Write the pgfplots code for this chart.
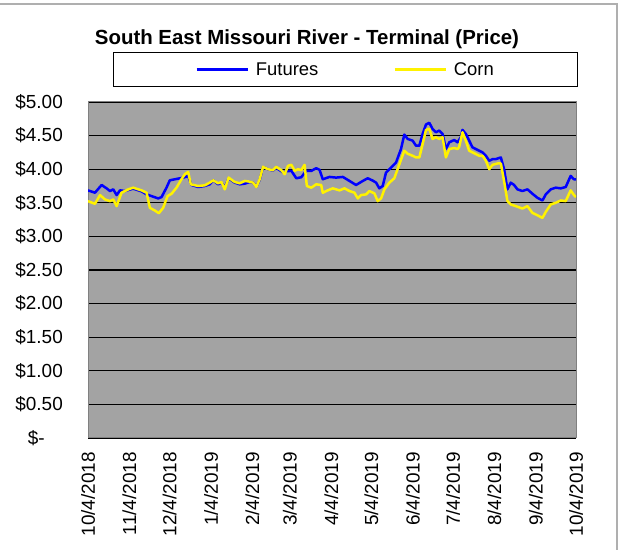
\documentclass[border=0pt]{standalone}
\usepackage{pgfplots}
\pgfplotsset{compat=1.18}
\usepackage{pgfplotstable}
\usepackage{fontspec}
\setmainfont{Liberation Sans}
\definecolor{plotgray}{RGB}{163,163,163}
\definecolor{framegray}{RGB}{128,128,128}
\definecolor{outergray}{RGB}{175,175,175}

\pgfplotstableread{
day value
0 3.685
5.2 3.65
10.2 3.765
13.9 3.715
16.4 3.675
18.9 3.70
21.4 3.615
23.9 3.685
27.6 3.675
30.1 3.69
33.8 3.71
40.1 3.67
43.8 3.625
47.5 3.60
52.5 3.565
55 3.585
58.7 3.725
61.2 3.835
64.9 3.85
68.7 3.865
72.4 3.88
74.9 3.90
77.4 3.765
82.4 3.735
87.3 3.75
91.1 3.775
93.6 3.835
97.3 3.775
99.8 3.80
102.3 3.725
105.2 3.865
109.7 3.80
113.5 3.775
117.2 3.785
120.9 3.81
123.4 3.80
125.9 3.74
128.4 3.84
130.9 4.03
134.6 4.00
138.3 3.98
140.8 4.02
144.6 3.97
145.8 3.95
148.3 3.97
152.1 3.975
155.8 3.865
159.5 3.88
163.2 3.975
167 3.975
170.7 4.015
173.2 3.99
175.6 3.85
180.6 3.885
185.6 3.875
190.6 3.885
195.6 3.825
200.5 3.765
205.5 3.825
209.2 3.865
213 3.83
215.5 3.80
217.9 3.715
220.4 3.75
222.9 3.95
226.7 4.025
230.4 4.10
234.1 4.30
236.6 4.515
239.1 4.45
242.8 4.425
245.3 4.35
247.8 4.35
250.3 4.525
252.8 4.665
255.3 4.69
257.7 4.60
260.2 4.55
262.7 4.575
265.2 4.525
267.7 4.30
270.2 4.40
273.9 4.435
276.4 4.40
278.9 4.475
280.1 4.585
282.6 4.525
285.1 4.425
287.6 4.325
290.1 4.30
292.6 4.275
295.1 4.25
297.6 4.20
300.1 4.125
302.6 4.15
305 4.15
308.8 4.175
311.2 4.00
313.7 3.70
316.2 3.80
318.7 3.765
321.2 3.70
324.9 3.675
328.7 3.70
332.4 3.635
336.1 3.575
339.9 3.535
342.4 3.625
346.1 3.70
349.8 3.725
353.6 3.715
357.3 3.735
361 3.90
363.5 3.85
365 3.85
}\futures

\pgfplotstableread{
day value
0 3.525
5.2 3.485
9.0 3.615
12.7 3.55
16.4 3.525
18.9 3.55
21.4 3.45
25.1 3.65
30.1 3.70
33.8 3.725
40.1 3.685
43.8 3.65
46.3 3.425
50 3.385
53 3.345
56.2 3.425
59.5 3.60
62.5 3.635
66.2 3.725
69.9 3.85
72.4 3.925
74.9 3.96
76.9 3.775
82.4 3.75
87.3 3.76
91.1 3.80
93.6 3.835
97.3 3.79
99.8 3.81
102.3 3.70
105.2 3.875
109.7 3.81
113.5 3.79
117.2 3.825
120.9 3.815
123.4 3.80
125.9 3.735
128.4 3.85
130.9 4.035
134.6 4.00
138.3 3.985
140.8 4.035
144.6 3.985
147.1 3.925
149.6 4.05
152.1 4.065
154.6 3.975
157 4.00
159.5 3.985
162 4.065
163.7 3.75
167 3.725
170.7 3.775
174.4 3.765
175.6 3.65
179.3 3.685
183.1 3.715
188.1 3.685
191.8 3.715
195.6 3.675
199.3 3.65
201.8 3.565
204.2 3.615
208 3.625
210.5 3.675
214.2 3.64
216.7 3.525
219.2 3.565
221.7 3.70
225.4 3.80
229.1 3.865
232.9 4.075
236.6 4.275
239.1 4.23
242.8 4.20
245.3 4.175
247.8 4.175
250.3 4.375
252.8 4.585
255.3 4.60
257.7 4.45
260.2 4.475
262.7 4.45
265.2 4.475
267.7 4.175
270.2 4.30
273.9 4.315
276.4 4.30
277.6 4.33
280.1 4.55
282.6 4.425
285.1 4.275
287.6 4.25
290.1 4.225
292.6 4.20
295.1 4.20
297.6 4.125
300.1 4.00
302.6 4.065
306.3 4.085
308.8 4.085
311.2 3.825
313.7 3.525
316.2 3.475
320 3.45
324.9 3.415
328.7 3.45
332.4 3.35
336.1 3.315
339.9 3.275
342.4 3.365
346.1 3.475
349.8 3.50
353.6 3.535
357.3 3.525
361 3.685
363.5 3.615
365 3.585
}\corn

\begin{document}
\begin{tikzpicture}
\path[use as bounding box] (0bp,0bp) rectangle (619bp,550bp);
\draw[line width=2.5bp, outergray] (0bp,546bp) -- (617bp,546bp) -- (617bp,0bp);
\begin{axis}[
  at={(88bp,112bp)}, anchor=south west,
  scale only axis, width=488bp, height=336bp,
  xmin=0, xmax=365, ymin=0, ymax=5,
  axis background/.style={fill=plotgray},
  axis line style={framegray, line width=1bp},
  xtick={0,31,61,92,123,151,182,212,243,273,304,335,365},
  xticklabels={10/4/2018,11/4/2018,12/4/2018,1/4/2019,2/4/2019,3/4/2019,4/4/2019,5/4/2019,6/4/2019,7/4/2019,8/4/2019,9/4/2019,10/4/2019},
  ytick={0,0.5,1,1.5,2,2.5,3,3.5,4,4.5,5},
  yticklabels={{\$-\hspace*{18bp}},\$0.50,\$1.00,\$1.50,\$2.00,\$2.50,\$3.00,\$3.50,\$4.00,\$4.50,\$5.00},
  ymajorgrids,
  grid style={black, line width=1.3bp},
  major tick length=0pt,
  tick label style={font=\fontsize{19}{19}\selectfont, inner sep=0pt},
  xticklabel style={rotate=90, anchor=east},
  xticklabel shift=14bp,
  yticklabel style={anchor=east},
  yticklabel shift=25bp,
  title={South East Missouri River - Terminal (Price)},
  title style={at={(0.4488,1.1696)}, anchor=center, font=\bfseries\fontsize{20.5}{24}\selectfont},
  legend columns=2,
  legend cell align=left,
  legend image code/.code={\draw[#1] (0bp,0bp) -- (51bp,0bp); \path (56bp,0bp);},
  legend style={at={(0.0512,1.1488)}, anchor=north west, draw=black, line width=0.8bp,
    fill=white, font=\fontsize{18.5}{20}\selectfont,
    inner xsep=82bp, inner ysep=8bp,
    /tikz/every even column/.append style={column sep=73bp}},
]
\addplot[color=blue, line width=2.5bp, line join=round] table[x=day, y=value] {\futures};
\addlegendentry{Futures}
\addplot[color=yellow, line width=2.5bp, line join=round] table[x=day, y=value] {\corn};
\addlegendentry{Corn}
\end{axis}
\end{tikzpicture}
\end{document}
